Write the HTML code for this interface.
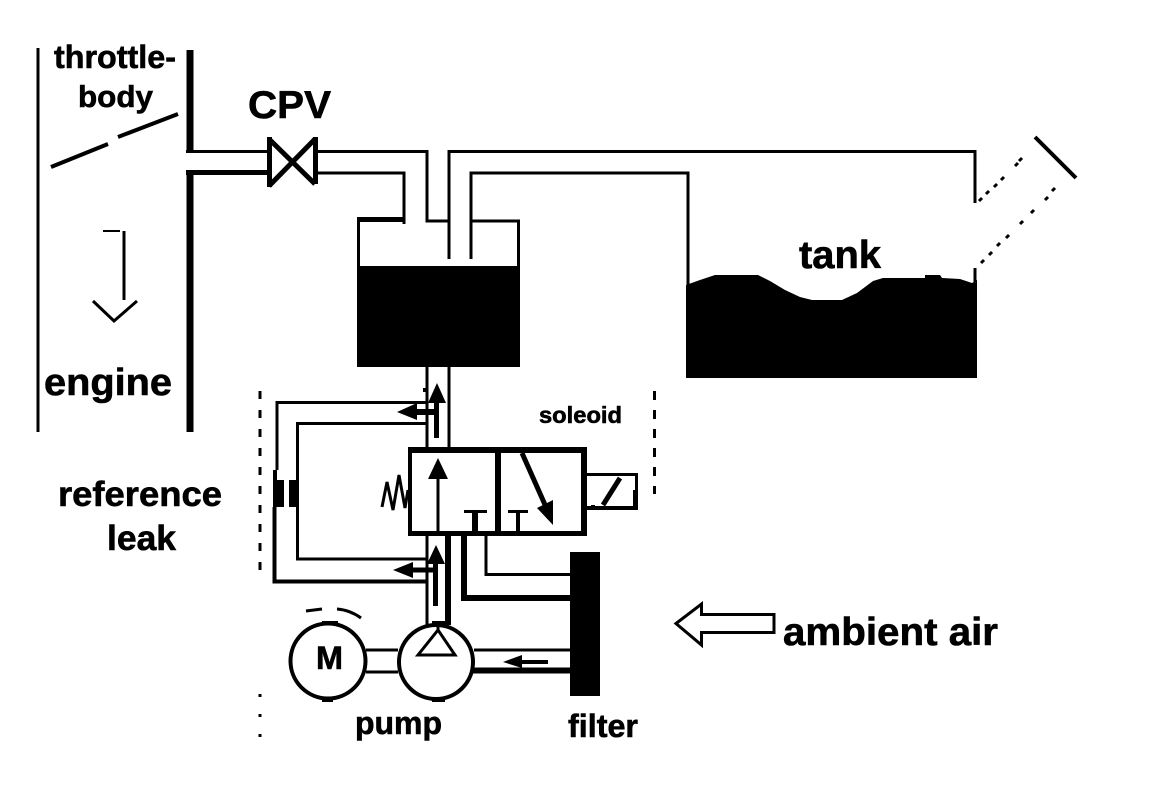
<!DOCTYPE html>
<html><head><meta charset="utf-8"><style>
html,body{margin:0;padding:0;background:#fff}
svg{display:block}
text{font-family:"Liberation Sans",sans-serif;font-weight:bold;fill:#000;stroke:#000;stroke-width:.6px}
</style></head><body>
<svg width="1152" height="802" viewBox="0 0 1152 802" xmlns="http://www.w3.org/2000/svg">
<rect width="1152" height="802" fill="#fff"/>
<g fill="none" stroke="#000" stroke-width="3" shape-rendering="crispEdges">
<!-- throttle body -->
<path d="M38 48V432"/>
<path d="M190 50V152M190 170V432" stroke-width="7"/>
<path d="M186 151.500H270"/>
<path d="M186 172.500H268" stroke-width="5"/>
<!-- arrow in engine -->
<path d="M124 231V300"/>
<path d="M103 231H120" stroke-width="2"/>
</g>
<g fill="none" stroke="#000" stroke-width="3">
<path d="M51 167L108 144M118 137L178 114" stroke-width="4"/>
<path d="M93 301L114 321L137 301"/>
</g>
<!-- CPV -->
<g fill="#000" shape-rendering="crispEdges">
<rect x="267" y="137" width="5" height="50"/>
<rect x="313" y="137" width="5" height="47"/>
</g>
<path d="M269 139L315 184M315 139L269 186" fill="none" stroke="#000" stroke-width="5"/>
<g fill="none" stroke="#000" stroke-width="3" shape-rendering="crispEdges">
<!-- pipes to canister -->
<path d="M316 151.500H427V221H449"/>
<path d="M316 173H404V224"/>
<path d="M449 259V151.500H975V203"/>
<path d="M471 259V173H688V285"/>
<path d="M471 221H518.500V266"/>
<path d="M358.500 219V266"/>
<path d="M357 219.500H404" stroke-width="5"/>
<path d="M975 268V290"/>
<rect x="357" y="266" width="163" height="101" fill="#000" stroke="none"/>
<!-- pipes below canister -->
<path d="M427 367V448M449 367V448" />
<!-- loops -->
<path d="M277 470V402.500H427"/>
<path d="M427 423.500H297.500V559H427"/>
<path d="M274.500 507V581.500H427" stroke-width="4"/>
<path d="M427 536V625"/>
<path d="M448 536V625" stroke-width="6"/>
<path d="M464 536V598H570" stroke-width="6"/>
<path d="M486 536V574.500H570"/>
<!-- restrictor -->
<rect x="273" y="480" width="11" height="27" fill="#000" stroke="none"/>
<rect x="273" y="470" width="4" height="10" fill="#000" stroke="none"/>
<rect x="289" y="480" width="7" height="27" fill="#000" stroke="none"/>
<!-- valve -->
<g fill="#000" stroke="none">
<rect x="408" y="447" width="179" height="6"/>
<rect x="408" y="531" width="179" height="5"/>
<rect x="408" y="447" width="4" height="89"/>
<rect x="581" y="447" width="6" height="89"/>
<rect x="495" y="447" width="6" height="89"/>
<rect x="436.500" y="479" width="3" height="52"/>
<rect x="464" y="510" width="23" height="3"/>
<rect x="472" y="510" width="6" height="22"/>
<rect x="508" y="510" width="20" height="3"/>
<rect x="516" y="510" width="4" height="22"/>
<rect x="587" y="473" width="51" height="3"/>
<rect x="587" y="506" width="51" height="4"/>
<rect x="635" y="473" width="3" height="37"/>
<rect x="633" y="490" width="5" height="20"/>
</g>
<!-- filter -->
<rect x="570" y="552" width="30" height="144" fill="#000" stroke="none"/>
<path d="M474 650H570"/>
<path d="M472 670.500H570" stroke-width="6"/>
<path d="M366 650H398M366 672H398"/>
<!-- dashed -->
<path d="M260 391V581" stroke-dasharray="8 11" stroke-width="3"/>
<path d="M260 694V740" stroke-dasharray="3 17" stroke-width="3"/>
<path d="M654.500 391V494" stroke-dasharray="9 10" stroke-width="3"/>
</g>
<!-- tank liquid -->
<path d="M686 285L700 280L715 275H758L770 281L785 290L800 297L812 300H842L857 293L873 281L883 278H925V275H940L942 278L960 279L972 283L977 280V378H686Z" fill="#000"/>
<g fill="none" stroke="#000" stroke-width="3">
<path d="M979 201L982 198M986 194L989 191M994 187L997 184M1001 180L1004 177M1015 166L1018 163M1019 161L1022 158"/>
<path d="M981 263L984 260M989 255L992 252M997 246L1000 243M1006 238L1009 235M1020 224L1023 221M1031 213L1034 210M1045 200L1048 197M1052 191L1055 188"/>
<path d="M1035 137L1076 178" stroke-width="4"/>
<path d="M620 478L603 505" stroke-width="5"/>
<!-- spring -->
<path d="M382 507L387 482L393 510L399 475L405 508L408 490" stroke-width="3"/>
<!-- valve diagonal arrow -->
<path d="M522 453L546 507" stroke-width="5"/>
<!-- motor & pump -->
<circle cx="328" cy="661" r="37.500" stroke-width="4"/>
<circle cx="436" cy="662" r="37" stroke-width="4"/>
<path d="M418 655H455L438 630Z" stroke-width="3"/>
<path d="M438 622V631" stroke-width="3"/>
<path d="M306 611L322 609M337 609Q350 610 361 618" stroke-width="3"/>
<!-- flow arrow stems -->
<path d="M436.500 438V395" stroke-width="5"/>
<path d="M435.500 606V552" stroke-width="5"/>
<path d="M410 412H436" stroke-width="6"/>
<path d="M408 570H436" stroke-width="5"/>
<path d="M520 662H548" stroke-width="4"/>
</g>
<g fill="#000">
<path d="M437 383L446 403H428Z"/>
<path d="M397 412L417 403V420Z"/>
<path d="M436 545L445 564H427Z"/>
<path d="M393 570L413 562V578Z"/>
<path d="M438 458L448 479H428Z"/>
<path d="M553 500L537 508L553 525Z"/>
<path d="M503 662L522 655V668Z"/>
<rect x="322" y="621" width="16" height="3"/>
<rect x="322" y="698" width="11" height="4"/>
<rect x="432" y="621" width="13" height="3"/>
<rect x="432" y="699" width="13" height="3"/>
<rect x="423" y="388" width="4" height="4"/>
<rect x="591" y="505" width="4" height="3"/>
</g>
<!-- ambient arrow -->
<path d="M676 623.500L701.500 604V614.500H774V632.500H701.500V645Z" fill="#fff" stroke="#000" stroke-width="3"/>
<g>
<text x="54" y="68" font-size="32" textLength="122" lengthAdjust="spacingAndGlyphs">throttle-</text>
<text x="78" y="107" font-size="31" textLength="75" lengthAdjust="spacingAndGlyphs">body</text>
<text x="248" y="118" font-size="39" textLength="83" lengthAdjust="spacingAndGlyphs">CPV</text>
<text x="44" y="395" font-size="38" textLength="128" lengthAdjust="spacingAndGlyphs">engine</text>
<text x="799" y="268" font-size="39" textLength="82" lengthAdjust="spacingAndGlyphs">tank</text>
<text x="58" y="506" font-size="35" textLength="164" lengthAdjust="spacingAndGlyphs">reference</text>
<text x="107" y="550" font-size="35" textLength="69" lengthAdjust="spacingAndGlyphs">leak</text>
<text x="783" y="645" font-size="39" textLength="215" lengthAdjust="spacingAndGlyphs">ambient air</text>
<text x="355" y="734" font-size="32" textLength="87" lengthAdjust="spacingAndGlyphs">pump</text>
<text x="568" y="737" font-size="32" textLength="70" lengthAdjust="spacingAndGlyphs">filter</text>
<text x="539" y="423" font-size="23" textLength="83" lengthAdjust="spacingAndGlyphs">soleoid</text>
<text x="316" y="669" font-size="32" textLength="27" lengthAdjust="spacingAndGlyphs">M</text>
</g>
</svg>
</body></html>
